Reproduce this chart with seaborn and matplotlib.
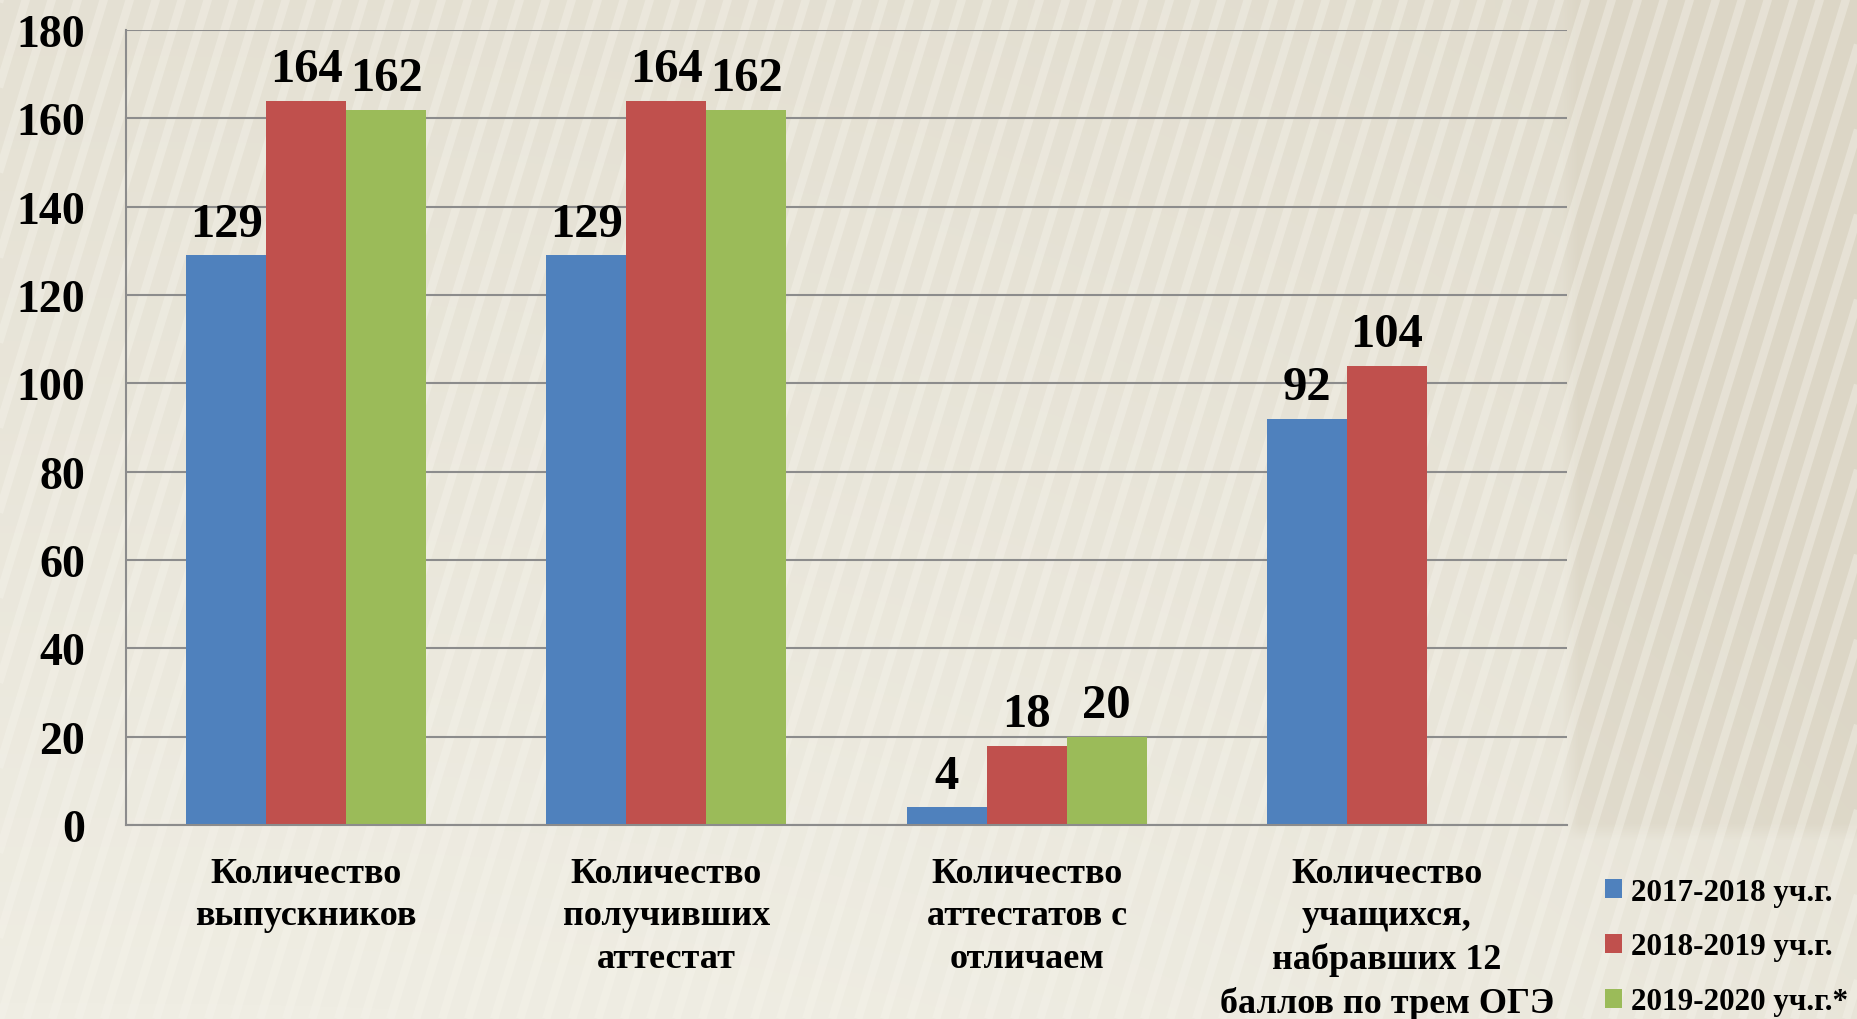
#!/usr/bin/env python
# -*- coding: UTF-8 -*-

# Import Modules
import numpy as np
import pandas as pd
import seaborn as sns
import matplotlib.pyplot as plt
from matplotlib.patches import Patch
from matplotlib.colors import LinearSegmentedColormap


# Chart data
categories = [
    "Количество\nвыпускников",
    "Количество\nполучивших\nаттестат",
    "Количество\nаттестатов с\nотличаем",
    "Количество\nучащихся,\nнабравших 12\nбаллов по трем ОГЭ",
]
years = ["2017-2018 уч.г.", "2018-2019 уч.г.", "2019-2020 уч.г.*"]
values_2017 = [129, 129, 4, 92]
values_2018 = [164, 164, 18, 104]
values_2019 = [162, 162, 20, None]   # no value for the last group
y_ticks = [0, 20, 40, 60, 80, 100, 120, 140, 160, 180]

colors = ["#4F81BD", "#C0504D", "#9BBB59"]


# Build long table for seaborn
rows = []
for year, vals in zip(years, [values_2017, values_2018, values_2019]):
    for cat, v in zip(categories, vals):
        if v is not None:
            rows.append({"category": cat, "year": year, "value": v})
df = pd.DataFrame(rows)


sns.set_style("white")
plt.rcParams["font.family"] = ["Liberation Serif", "DejaVu Serif"]
plt.rcParams["font.weight"] = "bold"
plt.rcParams["text.color"] = "black"
plt.rcParams["xtick.color"] = "black"
plt.rcParams["ytick.color"] = "black"

W, H = 1858, 1020
fig = plt.figure(figsize=(W / 100, H / 100), dpi=100)
fig.patch.set_facecolor("#EAE6D8")

# Striped paper background (decoration only)
bg = fig.add_axes([0, 0, 1, 1], zorder=-5)
bg.set_xlim(0, W)
bg.set_ylim(0, H)
bg.axis("off")
paper = LinearSegmentedColormap.from_list("paper", ["#EFEDE3", "#DCD6C6"])
gy, gx = np.mgrid[0:1:60j, 0:1:110j]
shade = np.clip(0.55 * gy + 0.35 * gx ** 3 + 0.45 * (gx > 0.845) * (gy > 0.18), 0, 1)
bg.imshow(shade, cmap=paper, extent=[0, W, H, 0], origin="upper",
          aspect="auto", interpolation="bilinear")
bg.set_ylim(0, H)
slant = H * np.tan(np.radians(17))
for x0 in np.arange(-slant, W + 30, 26):
    bg.plot([x0, x0 + slant], [0, H], color="#F6F4EC", lw=6, alpha=0.4,
            solid_capstyle="butt")

# Main chart
ax = fig.add_axes([126 / W, 1 - 826 / H, (1567 - 126) / W, (826 - 31) / H])
ax.patch.set_alpha(0)

sns.barplot(data=df, x="category", y="value", hue="year", order=categories,
            hue_order=years, palette=colors, saturation=1, width=2 / 3, gap=0,
            edgecolor="none", linewidth=0, legend=False, ax=ax)

for cont in ax.containers:
    ax.bar_label(cont, fmt="%d", padding=7, fontsize=35, fontweight="bold", color="black")

ax.set_ylim(0, 180)
ax.set_xlim(-0.5, len(categories) - 0.5)
ax.set_yticks(y_ticks)
ax.set_yticklabels([str(t) for t in y_ticks], fontsize=33, fontweight="bold")
ax.tick_params(axis="y", length=9.5, width=1.3, color="#8C8C8C", pad=20,
               labelcolor="black")

# category boundaries as major ticks, labels on minor ticks
ax.set_xticks(np.arange(-0.5, len(categories), 1.0))
ax.set_xticklabels([""] * (len(categories) + 1))
ax.tick_params(axis="x", which="major", length=8, width=1.3, color="#8C8C8C")
ax.set_xticks(np.arange(len(categories)), minor=True)
ax.set_xticklabels(categories, minor=True, fontsize=26, fontweight="bold",
                   linespacing=1.38, va="top")
ax.tick_params(axis="x", which="minor", length=0, pad=23, labelcolor="black")

ax.set_xlabel("")
ax.set_ylabel("")
ax.set_axisbelow(True)
ax.yaxis.grid(True, color="#8C8C8C", lw=1.5)
for side in ["top", "right"]:
    ax.spines[side].set_visible(False)
for side in ["left", "bottom"]:
    ax.spines[side].set_color("#8C8C8C")
    ax.spines[side].set_linewidth(1.5)

# Legend in lower right corner
handles = [Patch(facecolor=c, edgecolor="none") for c in colors]
fig.legend(handles, years, loc="center left", bbox_to_anchor=(1577 / W, 1 - 948 / H),
           frameon=False, handlelength=0.55, handleheight=0.55,
           handletextpad=0.3, labelspacing=0.83, labelcolor="black",
           prop={"weight": "bold", "size": 22.4})

fig.savefig("out.png", dpi=100, facecolor=fig.get_facecolor())
